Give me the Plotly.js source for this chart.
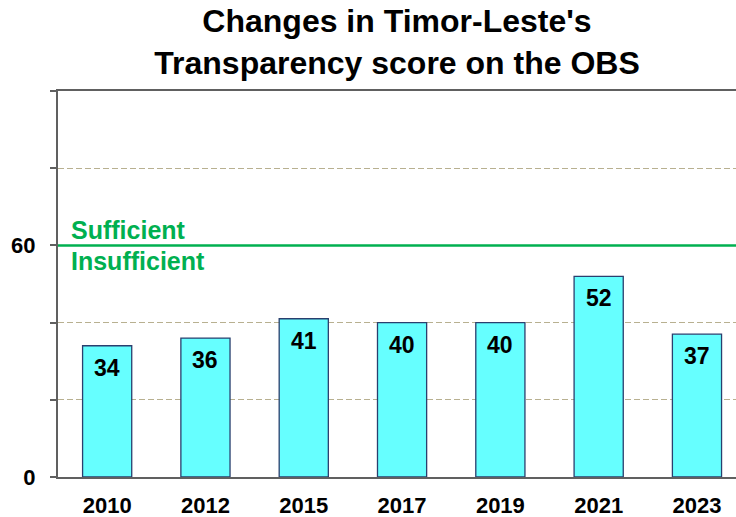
<!DOCTYPE html>
<html>
<head>
<meta charset="utf-8">
<script src="https://cdn.plot.ly/plotly-3.0.1.min.js"></script>
<style>html,body{margin:0;padding:0;background:#fff;}#chart{width:736px;height:517px;}</style>
</head>
<body>
<div id="chart"></div>
<script>
const years = ['2010', '2012', '2015', '2017', '2019', '2021', '2023'];
const scores = [34, 36, 41, 40, 40, 52, 37];
const yTickVals = [0, 20, 40, 60, 80, 100];
const yTickText = ['0', '', '', '60', '', ''];
const threshold = 60;
const aboveLabel = 'Sufficient';
const belowLabel = 'Insufficient';
const titleText = "Changes in Timor-Leste's<br>Transparency score on the OBS";

const FONT = 'Liberation Sans, Arial, sans-serif';
const green = '#00b050';

const trace = {
  type: 'bar',
  x: years,
  y: scores,
  width: 0.5,
  marker: {color: '#66ffff', line: {color: '#2a3f6e', width: 1.3}},
  hoverinfo: 'x+y'
};

const valueAnnotations = years.map((yr, i) => ({
  x: i, y: scores[i], xref: 'x', yref: 'y',
  text: '<b>' + scores[i] + '</b>', showarrow: false,
  yanchor: 'top', yshift: -7,
  font: {family: FONT, size: 23, color: '#000'}
}));

const layout = {
  width: 736, height: 517,
  margin: {l: 58, r: 0, t: 91, b: 40},
  paper_bgcolor: '#fff', plot_bgcolor: '#fff',
  showlegend: false,
  title: {
    text: '<b>' + titleText + '</b>',
    font: {family: FONT, size: 32, color: '#000'},
    x: 0.5, xanchor: 'center', xref: 'paper',
    y: 0.938, yanchor: 'top', yref: 'container'
  },
  xaxis: {
    type: 'category',
    range: [-0.5, 6.397],
    showline: true, linecolor: '#606060', linewidth: 2, mirror: true,
    ticks: '', showgrid: false,
    tickfont: {family: FONT, size: 22, color: '#000', weight: 'bold'},
    ticklabelstandoff: 8
  },
  yaxis: {
    range: [0, 100],
    tickmode: 'array', tickvals: yTickVals, ticktext: yTickText,
    showline: true, linecolor: '#606060', linewidth: 2,
    ticks: 'outside', ticklen: 6, tickcolor: '#606060', tickwidth: 2,
    showgrid: true, gridcolor: '#b8b090', griddash: '6px,3px', gridwidth: 1.3,
    zeroline: false,
    tickfont: {family: FONT, size: 22, color: '#000', weight: 'bold'},
    ticklabelstandoff: 10
  },
  shapes: [{
    type: 'line', xref: 'paper', x0: 0, x1: 1, yref: 'y', y0: threshold, y1: threshold,
    line: {color: green, width: 2.5}, layer: 'above'
  }],
  annotations: valueAnnotations.concat([
    {xref: 'paper', x: 0.016, xanchor: 'left', yref: 'y', y: threshold, yanchor: 'bottom', yshift: -1,
     text: '<b>' + aboveLabel + '</b>', showarrow: false,
     font: {family: FONT, size: 25, color: green}},
    {xref: 'paper', x: 0.016, xanchor: 'left', yref: 'y', y: threshold, yanchor: 'top', yshift: 0,
     text: '<b>' + belowLabel + '</b>', showarrow: false,
     font: {family: FONT, size: 25, color: green}}
  ])
};

Plotly.newPlot('chart', [trace], layout, {displayModeBar: false, staticPlot: true});
</script>
</body>
</html>
